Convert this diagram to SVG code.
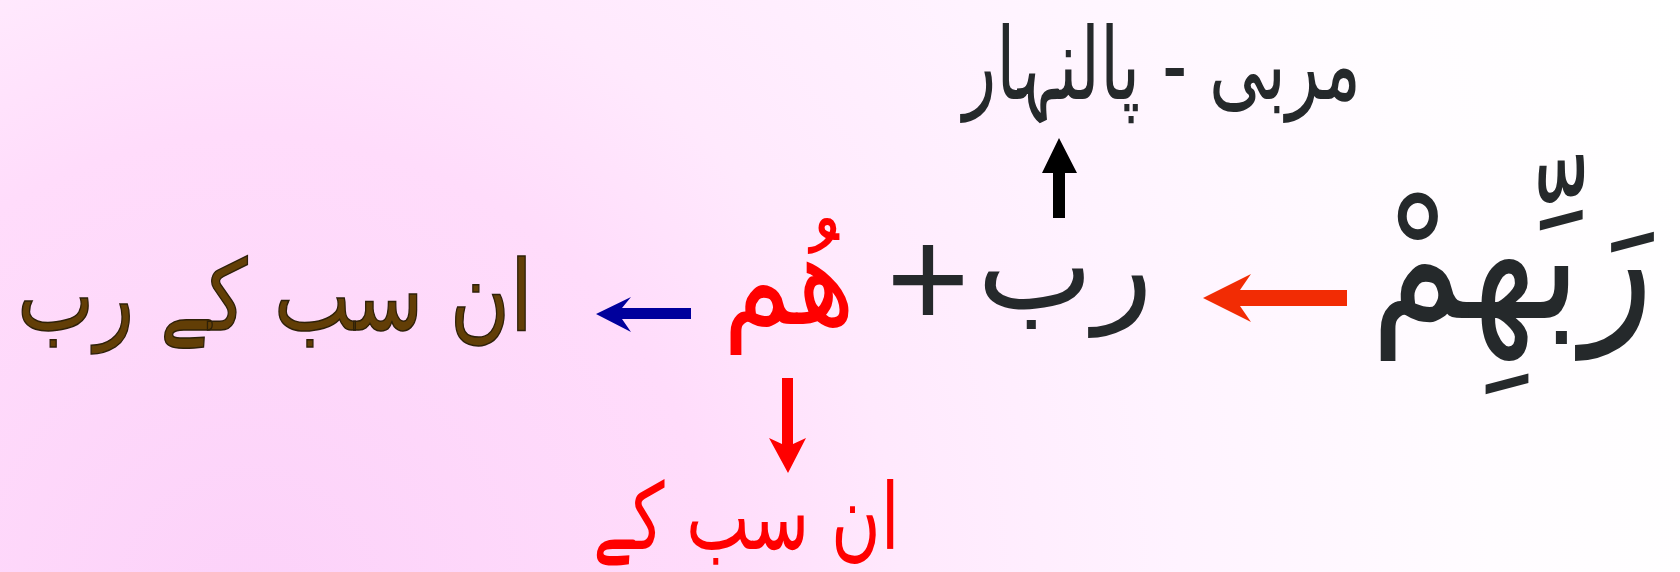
<svg xmlns="http://www.w3.org/2000/svg" width="1680" height="572" viewBox="0 0 1680 572">
  <defs>
    <radialGradient id="bg" gradientUnits="userSpaceOnUse" cx="250" cy="600" r="1550">
      <stop offset="0" stop-color="#fcd2f9"/>
      <stop offset="0.3" stop-color="#ffdcfb"/>
      <stop offset="0.42" stop-color="#ffe9fd"/>
      <stop offset="0.6" stop-color="#fff3ff"/>
      <stop offset="0.8" stop-color="#fffcff"/>
      <stop offset="1" stop-color="#ffffff"/>
    </radialGradient>
    <style>
      .ar { font-family: "DejaVu Sans", sans-serif; text-anchor: middle; }
      .dark { fill: #25292b; }
      .red { fill: #ff0000; }
      .brown { fill: #623e06; stroke: #2e2008; stroke-width: 1.5; }
    </style>
  </defs>
  <rect width="1680" height="572" fill="url(#bg)"/>

  <g id="connectors">
    <path d="M1059,138 L1077,173 L1065,173 L1065,218 L1053,218 L1053,173 L1042,173 Z" fill="#000000"/>
    <path d="M1203,298 L1251,274 L1240,290 L1347,290 L1347,306 L1240,306 L1251,322 Z" fill="#f22c04"/>
    <path d="M596,314 L631,297 L622,308 L691,308 L691,319 L622,319 L631,332 Z" fill="#00009c"/>
    <path d="M782,378 L793,378 L793,444 L806,438 L788,473 L769,438 L782,444 Z" fill="#ff0000"/>
  </g>

  <g id="word-rabbihim">
    <text class="ar dark" font-size="150" transform="translate(1512,318) scale(1,1.18)">رَبِّهِمْ</text>
  </g>
  <g id="meaning-murabbi">
    <text class="ar dark" x="1162" y="99" font-size="100" textLength="398" lengthAdjust="spacingAndGlyphs">مربی - پالنہار</text>
  </g>
  <g id="rabb">
    <text class="ar dark" x="1065" y="308" font-size="122" textLength="176" lengthAdjust="spacingAndGlyphs">رب</text>
  </g>
  <g id="plus">
    <text x="928" y="328" font-family="Liberation Sans, Arial, sans-serif" font-size="143" text-anchor="middle" class="dark">+</text>
  </g>
  <g id="hum">
    <text class="ar red" x="789" y="324" font-size="128" textLength="132" lengthAdjust="spacingAndGlyphs">هُم</text>
  </g>
  <g id="un-sab-ke-rabb">
    <text class="ar brown" x="275" y="330" font-size="98" textLength="516" lengthAdjust="spacingAndGlyphs">ان سب کے رب</text>
  </g>
  <g id="un-sab-ke">
    <text class="ar red" x="746" y="549" font-size="92" textLength="307" lengthAdjust="spacingAndGlyphs">ان سب کے</text>
  </g>
</svg>
